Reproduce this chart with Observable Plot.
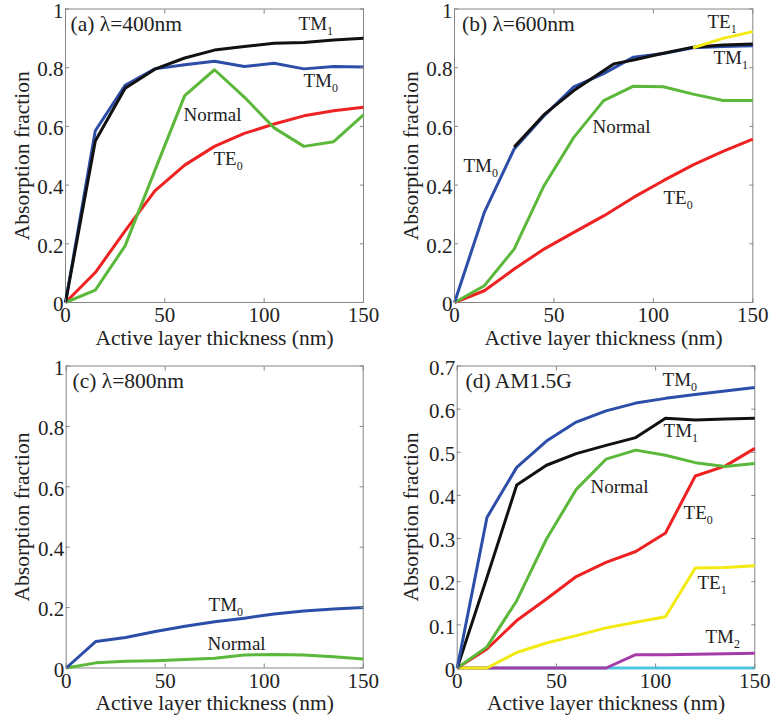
<!DOCTYPE html>
<html>
<head>
<meta charset="utf-8">
<script src="https://cdn.jsdelivr.net/npm/d3@7"></script>
<script src="https://cdn.jsdelivr.net/npm/@observablehq/plot@0.6"></script>
<style>
  body { margin: 0; background: #fff; }
  #chart { position: relative; width: 771px; height: 718px; overflow: hidden; }
  #chart svg, #chart svg text { font-family: 'Liberation Serif', 'Times New Roman', serif !important; }
</style>
</head>
<body>
<div id="chart"></div>
<script>
// ---------- data ----------
const thickness = [0, 15, 30, 45, 60, 75, 90, 105, 120, 135, 150];
const xTicks = [0, 50, 100, 150];
const yTicksFull = [0, 0.2, 0.4, 0.6, 0.8, 1];
const yTicksAM = [0, 0.1, 0.2, 0.3, 0.4, 0.5, 0.6, 0.7];

// (a) λ=400nm
const a_TE0    = [0, 0.102, 0.244, 0.38, 0.468, 0.532, 0.576, 0.608, 0.636, 0.653, 0.665];
const a_Normal = [0, 0.042, 0.193, 0.45, 0.705, 0.793, 0.70, 0.595, 0.532, 0.548, 0.639];
const a_TM0    = [0, 0.585, 0.74, 0.796, 0.81, 0.822, 0.804, 0.815, 0.796, 0.804, 0.802];
const a_TM1    = [0, 0.55, 0.73, 0.795, 0.833, 0.86, 0.872, 0.883, 0.886, 0.894, 0.90];

// (b) λ=600nm
const b_TE0    = [0, 0.04, 0.114, 0.182, 0.239, 0.295, 0.358, 0.415, 0.469, 0.515, 0.557];
const b_Normal = [0, 0.057, 0.182, 0.398, 0.5625, 0.688, 0.737, 0.735, 0.71, 0.688, 0.688];
const b_TM0    = [0, 0.307, 0.523, 0.636, 0.735, 0.78, 0.836, 0.848, 0.868, 0.872, 0.875];
const b_TM1_x  = [30, 45, 60, 80, 90, 105, 120, 135, 150];
const b_TM1    = [0.53, 0.64, 0.722, 0.813, 0.826, 0.849, 0.87, 0.877, 0.881];
const b_TE1_x  = [120, 135, 150];
const b_TE1    = [0.868, 0.9, 0.923];

// (c) λ=800nm
const c_Normal = [0, 0.017, 0.022, 0.024, 0.028, 0.032, 0.043, 0.045, 0.043, 0.037, 0.03];
const c_TM0    = [0, 0.088, 0.101, 0.121, 0.138, 0.153, 0.165, 0.179, 0.189, 0.195, 0.2];

// (d) AM1.5G
const d_other  = [0, 0, 0, 0, 0, 0, 0, 0, 0, 0, 0];
const d_TM2    = [0, 0, 0, 0, 0, 0, 0.031, 0.031, 0.032, 0.033, 0.034];
const d_TE1    = [0, 0, 0.036, 0.058, 0.075, 0.093, 0.106, 0.119, 0.232, 0.233, 0.237];
const d_TE0    = [0, 0.044, 0.11, 0.16, 0.212, 0.245, 0.27, 0.313, 0.445, 0.468, 0.509];
const d_Normal = [0, 0.049, 0.156, 0.299, 0.414, 0.484, 0.505, 0.493, 0.476, 0.467, 0.474];
const d_TM1    = [0, 0.21, 0.424, 0.470, 0.497, 0.516, 0.534, 0.579, 0.575, 0.577, 0.579];
const d_TM0    = [0, 0.349, 0.465, 0.526, 0.570, 0.596, 0.614, 0.625, 0.634, 0.642, 0.65];

// curve annotations (data coordinates)
const a_labels = [
  {text: "TM1", x: 117.3, y: 0.927}, {text: "TM0", x: 119.8, y: 0.733},
  {text: "Normal", x: 59.4, y: 0.62}, {text: "TE0", x: 74.5, y: 0.467}
];
const b_labels = [
  {text: "TE1", x: 127.2, y: 0.934}, {text: "TM1", x: 130.2, y: 0.814},
  {text: "Normal", x: 69.4, y: 0.576}, {text: "TM0", x: 4.5, y: 0.446},
  {text: "TE0", x: 105.1, y: 0.337}
];
const c_labels = [
  {text: "TM0", x: 71.9, y: 0.19}, {text: "Normal", x: 71.4, y: 0.058}
];
const d_labels = [
  {text: "TM0", x: 103.5, y: 0.6525}, {text: "TM1", x: 104, y: 0.5365},
  {text: "Normal", x: 67.2, y: 0.4045}, {text: "TE0", x: 114.1, y: 0.3465},
  {text: "TE1", x: 121.1, y: 0.184}, {text: "TM2", x: 125.1, y: 0.0568}
];

const xLabel = "Active layer thickness (nm)";
const yLabel = "Absorption fraction";

// ---------- styles ----------
const C = {
  blue: "#2c4ea8", black: "#111111", red: "#ee2222", green: "#5cb83a",
  yellow: "#f2ea12", magenta: "#a63ca8", cyan: "#4ec6e0"
};
const FONT = "'Liberation Serif', 'Times New Roman', serif";
const FRAME = "#858585";
const INK = "#222";

function toRows(xs, ys) { return xs.map((x, i) => ({x, y: ys[i]})); }

function panel(cfg) {
  const {left, top, width, height, margin, yDomain, yTicks, title, titleDx, ylabDx, series, labels} = cfg;
  const fmt = d => String(+d.toFixed(2));
  const marks = [
    Plot.frame({stroke: FRAME, strokeWidth: 1}),
    ...series.map(s => Plot.line(toRows(s.x, s.y), {
      x: "x", y: "y", stroke: s.color, strokeWidth: 3, strokeLinejoin: "round", strokeLinecap: "butt"
    })),
    // inward tick marks on all four sides
    Plot.axisX(xTicks, {anchor: "bottom", tickSize: -4, tickFormat: () => "", label: null, stroke: FRAME}),
    Plot.axisX(xTicks, {anchor: "top", tickSize: -4, tickFormat: () => "", label: null, stroke: FRAME}),
    Plot.axisY(yTicks, {anchor: "left", tickSize: -4, tickFormat: () => "", label: null, stroke: FRAME}),
    Plot.axisY(yTicks, {anchor: "right", tickSize: -4, tickFormat: () => "", label: null, stroke: FRAME}),
    // tick labels
    Plot.axisX(xTicks, {anchor: "bottom", tickSize: 0, tickPadding: 5, tickFormat: fmt, label: null, fill: INK, fontSize: 21, fontFamily: FONT}),
    Plot.axisY(yTicks, {anchor: "left", tickSize: 0, tickPadding: 2, dy: 2, tickFormat: fmt, label: null, fill: INK, fontSize: 21, fontFamily: FONT}),
    // axis titles
    Plot.text([xLabel], {text: d => d, frameAnchor: "bottom", dy: 42, lineAnchor: "bottom", textAnchor: "middle", fontSize: 21.5, fontFamily: FONT, fill: INK}),
    Plot.text([yLabel], {text: d => d, frameAnchor: "left", dx: ylabDx, rotate: -90, lineAnchor: "bottom", textAnchor: "middle", fontSize: 21.5, fontFamily: FONT, fill: INK}),
    // panel title
    Plot.text([title], {text: d => d, frameAnchor: "top-left", dx: titleDx, dy: 21.5, lineAnchor: "bottom", textAnchor: "start", fontSize: 21.5, fontFamily: FONT, fill: INK}),
    // curve labels
    Plot.text(labels, {x: "x", y: "y", text: "text", textAnchor: "start", lineAnchor: "bottom", fontSize: 19, fontFamily: FONT, fill: INK})
  ];
  const svg = Plot.plot({
    width, height,
    marginTop: margin[0], marginRight: margin[1], marginBottom: margin[2], marginLeft: margin[3],
    x: {domain: [0, 150]},
    y: {domain: yDomain},
    style: {background: "transparent", overflow: "visible", fontFamily: FONT, fontSize: "21px", color: INK},
    marks
  });
  // subscripts for mode names
  const ns = "http://www.w3.org/2000/svg";
  svg.querySelectorAll("text").forEach(t => {
    const m = t.textContent.match(/^(T[EM])(\d)$/);
    if (m) {
      t.textContent = m[1];
      const ts = document.createElementNS(ns, "tspan");
      ts.setAttribute("font-size", "12");
      ts.setAttribute("dy", "5");
      ts.textContent = m[2];
      t.appendChild(ts);
    }
  });
  svg.style.position = "absolute";
  svg.style.left = left + "px";
  svg.style.top = top + "px";
  svg.style.maxWidth = "none";
  document.getElementById("chart").appendChild(svg);
}

panel({
  left: 0, top: 0, width: 385, height: 340, margin: [8.5, 22, 38, 65],
  yDomain: [0, 1], yTicks: yTicksFull, title: "(a) λ=400nm", titleDx: 5, ylabDx: -36.5,
  series: [
    {x: thickness, y: a_TE0, color: C.red},
    {x: thickness, y: a_Normal, color: C.green},
    {x: thickness, y: a_TM0, color: C.blue},
    {x: thickness, y: a_TM1, color: C.black}
  ],
  labels: a_labels
});
panel({
  left: 385, top: 0, width: 386, height: 340, margin: [8.5, 18.7, 38, 69],
  yDomain: [0, 1], yTicks: yTicksFull, title: "(b) λ=600nm", titleDx: 7.5, ylabDx: -36.7,
  series: [
    {x: thickness, y: b_TE0, color: C.red},
    {x: thickness, y: b_Normal, color: C.green},
    {x: thickness, y: b_TM0, color: C.blue},
    {x: b_TM1_x, y: b_TM1, color: C.black},
    {x: b_TE1_x, y: b_TE1, color: C.yellow}
  ],
  labels: b_labels
});
panel({
  left: 0, top: 340, width: 385, height: 378, margin: [25.5, 22.3, 50.5, 65.7],
  yDomain: [0, 1], yTicks: yTicksFull, title: "(c) λ=800nm", titleDx: 6.3, ylabDx: -37.2,
  series: [
    {x: thickness, y: c_Normal, color: C.green},
    {x: thickness, y: c_TM0, color: C.blue}
  ],
  labels: c_labels
});
panel({
  left: 385, top: 340, width: 386, height: 378, margin: [25.5, 16.7, 50.5, 71.7],
  yDomain: [0, 0.7], yTicks: yTicksAM, title: "(d) AM1.5G", titleDx: 8.3, ylabDx: -39.4,
  series: [
    {x: thickness, y: d_other, color: C.cyan},
    {x: thickness, y: d_TM2, color: C.magenta},
    {x: thickness, y: d_TE1, color: C.yellow},
    {x: thickness, y: d_TE0, color: C.red},
    {x: thickness, y: d_Normal, color: C.green},
    {x: thickness, y: d_TM1, color: C.black},
    {x: thickness, y: d_TM0, color: C.blue}
  ],
  labels: d_labels
});
</script>
</body>
</html>
